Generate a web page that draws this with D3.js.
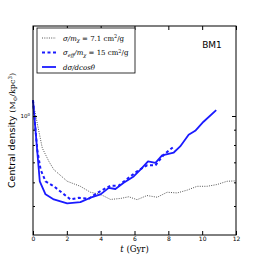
<!DOCTYPE html>
<html>
<head>
<meta charset="utf-8">
<script src="https://cdn.jsdelivr.net/npm/d3@7"></script>
<style>
body { margin: 0; background: #fff; }
svg { display: block; }
</style>
</head>
<body>
<svg width="262" height="262"></svg>
<script>
// time (Gyr) and central density values
const tSolid = [0, 0.4, 0.74, 1.23, 2.02, 2.8, 3.4, 3.99, 4.48, 4.87, 5.36, 5.95, 6.35, 6.8, 7.24, 7.63, 8.32, 8.7, 9.2, 9.59, 10.08, 10.83];
const vSolid = [1.13, 0.605, 0.547, 0.526, 0.51, 0.515, 0.533, 0.547, 0.575, 0.57, 0.598, 0.628, 0.662, 0.705, 0.697, 0.738, 0.755, 0.791, 0.865, 0.892, 0.957, 1.047];

const tDashed = [0, 0.25, 0.45, 0.74, 1.23, 1.73, 2.22, 2.71, 3.3, 3.8, 4.58, 5.07, 5.56, 6.15, 6.74, 7.24, 7.73, 8.28];
const vDashed = [1.13, 0.771, 0.662, 0.605, 0.582, 0.553, 0.526, 0.533, 0.529, 0.553, 0.585, 0.585, 0.616, 0.653, 0.684, 0.684, 0.742, 0.787];

const tDotted = [0, 0.25, 0.55, 0.94, 1.23, 2.02, 2.8, 3.39, 3.99, 4.58, 5.17, 5.66, 6.15, 6.74, 7.34, 7.93, 8.52, 9.11, 9.7, 10.29, 10.88, 11.47, 12];
const vDotted = [1.116, 0.946, 0.781, 0.705, 0.662, 0.605, 0.582, 0.556, 0.547, 0.526, 0.53, 0.537, 0.525, 0.542, 0.535, 0.556, 0.553, 0.565, 0.582, 0.582, 0.59, 0.605, 0.607];

const xTicks = [0, 2, 4, 6, 8, 10, 12];
const yMinorTicks = [0.5, 0.6, 0.7, 0.8, 0.9];
const yMajorTicks = [1];

const area = { left: 33, right: 236, top: 26, bottom: 235 };

const svg = d3.select("svg");

const scaleX = d3.scaleLinear().domain([0, 12]).range([area.left, area.right]);
const scaleY = d3.scaleLog().domain([0.4, 2.0]).range([area.bottom, area.top]);

function series(ts, vs) {
    return ts.map((t, i) => ({ t: t, v: vs[i] }));
}

const line = d3.line().x(d => scaleX(d.t)).y(d => scaleY(d.v));

// curves
svg.append("path")
    .datum(series(tDotted, vDotted))
    .attr("d", line)
    .attr("fill", "none")
    .attr("stroke", "#555")
    .attr("stroke-width", 1)
    .attr("stroke-dasharray", "1,1.3");

svg.append("path")
    .datum(series(tDashed, vDashed))
    .attr("d", line)
    .attr("fill", "none")
    .attr("stroke", "#1a1aff")
    .attr("stroke-width", 2)
    .attr("stroke-dasharray", "3,2.5");

svg.append("path")
    .datum(series(tSolid, vSolid))
    .attr("d", line)
    .attr("fill", "none")
    .attr("stroke", "#1a1aff")
    .attr("stroke-width", 1.8)
    .attr("stroke-linejoin", "round");

// frame
svg.append("rect")
    .attr("x", area.left).attr("y", area.top)
    .attr("width", area.right - area.left).attr("height", area.bottom - area.top)
    .attr("fill", "none").attr("stroke", "#000").attr("stroke-width", 1);

// axes with inward ticks
let axB = d3.axisBottom(scaleX).tickValues(xTicks).tickFormat(d3.format("d")).tickSize(-4).tickPadding(2);
let gB = svg.append("g").attr("transform", `translate(0,${area.bottom})`).call(axB);
gB.select(".domain").remove();
gB.selectAll("text").attr("font-family", "DejaVu Sans").attr("font-size", 6).attr("fill", "#000");

let axT = d3.axisTop(scaleX).tickValues(xTicks).tickFormat("").tickSize(-4);
let gT = svg.append("g").attr("transform", `translate(0,${area.top})`).call(axT);
gT.select(".domain").remove();

let axL = d3.axisLeft(scaleY).tickValues(yMajorTicks).tickFormat("").tickSize(-4);
let gL = svg.append("g").attr("transform", `translate(${area.left},0)`).call(axL);
gL.select(".domain").remove();
let axLm = d3.axisLeft(scaleY).tickValues(yMinorTicks).tickFormat("").tickSize(-2);
let gLm = svg.append("g").attr("transform", `translate(${area.left},0)`).call(axLm);
gLm.select(".domain").remove();

let axR = d3.axisRight(scaleY).tickValues(yMajorTicks).tickFormat("").tickSize(-4);
let gR = svg.append("g").attr("transform", `translate(${area.right},0)`).call(axR);
gR.select(".domain").remove();
let axRm = d3.axisRight(scaleY).tickValues(yMinorTicks).tickFormat("").tickSize(-2);
let gRm = svg.append("g").attr("transform", `translate(${area.right},0)`).call(axRm);
gRm.select(".domain").remove();

// 10^0 label
let lab = svg.append("text")
    .attr("x", area.left - 3).attr("y", scaleY(1) + 2)
    .attr("text-anchor", "end")
    .attr("font-family", "DejaVu Sans").attr("font-size", 5.5);
lab.append("tspan").text("10");
lab.append("tspan").attr("dy", -2.5).attr("font-size", 4).text("0");

// axis titles
let xl = svg.append("text")
    .attr("x", (area.left + area.right) / 2).attr("y", 252)
    .attr("text-anchor", "middle")
    .attr("font-family", "DejaVu Serif").attr("font-size", 8.5);
xl.append("tspan").attr("font-style", "italic").text("t");
xl.append("tspan").text(" (Gyr)");

let yl = svg.append("text")
    .attr("transform", `translate(15,${(area.top + area.bottom) / 2}) rotate(-90)`)
    .attr("text-anchor", "middle");
yl.append("tspan").attr("font-family", "DejaVu Sans").attr("font-size", 9.5).text("Central density ");
yl.append("tspan").attr("font-family", "DejaVu Serif").attr("font-size", 8).text("(M");
yl.append("tspan").attr("font-family", "DejaVu Serif").attr("font-size", 5.5).attr("dy", 2).text("⊙");
yl.append("tspan").attr("font-family", "DejaVu Serif").attr("font-size", 8).attr("dy", -2).text("/kpc");
yl.append("tspan").attr("font-family", "DejaVu Serif").attr("font-size", 5.5).attr("dy", -3).text("3");
yl.append("tspan").attr("font-family", "DejaVu Serif").attr("font-size", 8).attr("dy", 3).text(")");

// BM1 label
svg.append("text")
    .attr("x", 212).attr("y", 48)
    .attr("text-anchor", "middle")
    .attr("font-family", "DejaVu Sans").attr("font-size", 9)
    .text("BM1");

// legend
const legend = svg.append("g");
legend.append("rect")
    .attr("x", 37).attr("y", 28).attr("width", 98).attr("height", 45)
    .attr("fill", "#fff").attr("stroke", "#000").attr("stroke-width", 0.8);

const legendRows = [
    { y: 38, stroke: "#555", w: 1, dash: "1,1.3" },
    { y: 52.5, stroke: "#1a1aff", w: 2, dash: "3,2.5" },
    { y: 67, stroke: "#1a1aff", w: 1.8, dash: null }
];
legendRows.forEach(r => {
    legend.append("line")
        .attr("x1", 42).attr("x2", 56).attr("y1", r.y).attr("y2", r.y)
        .attr("stroke", r.stroke).attr("stroke-width", r.w)
        .attr("stroke-dasharray", r.dash);
});

function legText(y) {
    return legend.append("text").attr("x", 63).attr("y", y + 2.5)
        .attr("font-family", "DejaVu Serif").attr("font-size", 7);
}
let t1 = legText(38);
t1.append("tspan").attr("font-style", "italic").text("σ/m");
t1.append("tspan").attr("font-style", "italic").attr("font-size", 5).attr("dy", 1.5).text("χ");
t1.append("tspan").attr("dy", -1.5).text(" = 7.1 cm");
t1.append("tspan").attr("font-size", 5).attr("dy", -2.5).text("2");
t1.append("tspan").attr("dy", 2.5).text("/g");

let t2 = legText(52.5);
t2.append("tspan").attr("font-style", "italic").text("σ");
t2.append("tspan").attr("font-style", "italic").attr("font-size", 5).attr("dy", 1.5).text("eff");
t2.append("tspan").attr("font-style", "italic").attr("dy", -1.5).text("/m");
t2.append("tspan").attr("font-style", "italic").attr("font-size", 5).attr("dy", 1.5).text("χ");
t2.append("tspan").attr("dy", -1.5).text(" = 15 cm");
t2.append("tspan").attr("font-size", 5).attr("dy", -2.5).text("2");
t2.append("tspan").attr("dy", 2.5).text("/g");

let t3 = legText(67);
t3.append("tspan").attr("font-style", "italic").text("dσ/dcosθ");
</script>
</body>
</html>
